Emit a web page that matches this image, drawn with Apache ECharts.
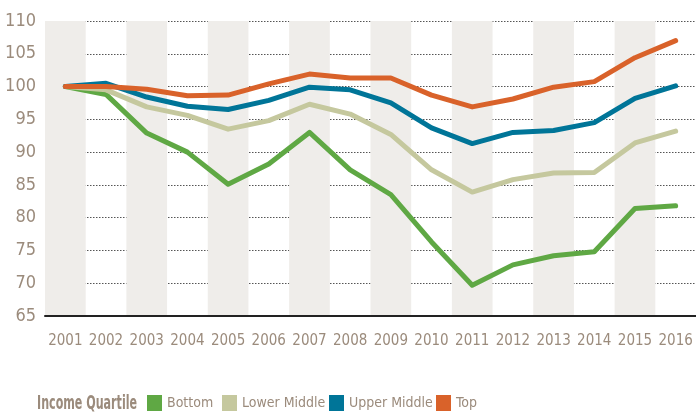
<!DOCTYPE html>
<html><head><meta charset="utf-8">
<script src="https://cdn.jsdelivr.net/npm/echarts@6/dist/echarts.min.js"></script>
<style>html,body{margin:0;padding:0;background:#fff}#c{width:696px;height:414px}</style>
</head><body><div id="c"></div>
<script>
const years = ['2001','2002','2003','2004','2005','2006','2007','2008','2009','2010','2011','2012','2013','2014','2015','2016'];
const bottomQuartile = [100, 98.8, 92.9, 90.0, 85.1, 88.2, 93.0, 87.3, 83.5, 76.3, 69.7, 72.8, 74.2, 74.8, 81.4, 81.8];
const lowerMiddle = [100, 99.5, 96.9, 95.6, 93.5, 94.8, 97.3, 95.8, 92.7, 87.3, 83.9, 85.8, 86.8, 86.9, 91.4, 93.2];
const upperMiddle = [100, 100.5, 98.4, 97.0, 96.5, 97.9, 99.9, 99.5, 97.5, 93.7, 91.3, 93.0, 93.3, 94.5, 98.2, 100.1];
const topQuartile = [100, 100.0, 99.6, 98.6, 98.7, 100.4, 101.9, 101.3, 101.3, 98.7, 96.9, 98.1, 99.9, 100.75, 104.4, 107.0];
const seriesNames = ['Bottom','Lower Middle','Upper Middle','Top'];
const legendTitle = 'Income Quartile';

const colors = ['#5fa844','#c5c89e','#007598','#d9622a'];
const font = '"Liberation Sans Narrow", "DejaVu Sans Condensed", sans-serif';
const txt = '#9b8b7c';
const legendLeft = [147, 222, 329, 436];
const chart = echarts.init(document.getElementById('c'));
const dataSets = [bottomQuartile, lowerMiddle, upperMiddle, topQuartile];
chart.setOption({
  animation: false,
  color: colors,
  grid: {left: 45, right: -4, top: 21, bottom: 98, containLabel: false},
  xAxis: {
    type: 'category', data: years, boundaryGap: true,
    axisLine: {show: true, lineStyle: {color: '#222', width: 2}},
    axisTick: {show: false, interval: 0},
    axisLabel: {color: txt, fontFamily: font, fontSize: 15, margin: 18, interval: 0},
    splitLine: {show: false},
    splitArea: {show: true, interval: 0, areaStyle: {color: ['#efedea', 'rgba(255,255,255,0)']}}
  },
  yAxis: {
    type: 'value', min: 65, max: 110, interval: 5,
    axisLine: {show: false}, axisTick: {show: false},
    axisLabel: {color: txt, fontFamily: font, fontSize: 18, margin: 9},
    splitLine: {show: true, lineStyle: {color: '#555', type: [1.5, 1.5], width: 1}}
  },
  legend: seriesNames.map((n, i) => ({
    left: legendLeft[i], top: 395, padding: 0, icon: 'rect', itemWidth: 15, itemHeight: 16,
    textStyle: {color: txt, fontFamily: font, fontSize: 14},
    data: [n]
  })),
  graphic: [{
    type: 'text', x: 37, y: 404, scaleX: 0.65,
    style: {text: legendTitle, fill: txt, font: 'bold 19px ' + font, verticalAlign: 'middle', align: 'left'}
  }],
  series: dataSets.map((d, i) => ({
    name: seriesNames[i], type: 'line', data: d, symbol: 'none',
    lineStyle: {width: 5, cap: 'round', join: 'round', color: colors[i]},
    z: 2 + i
  }))
});
</script></body></html>
